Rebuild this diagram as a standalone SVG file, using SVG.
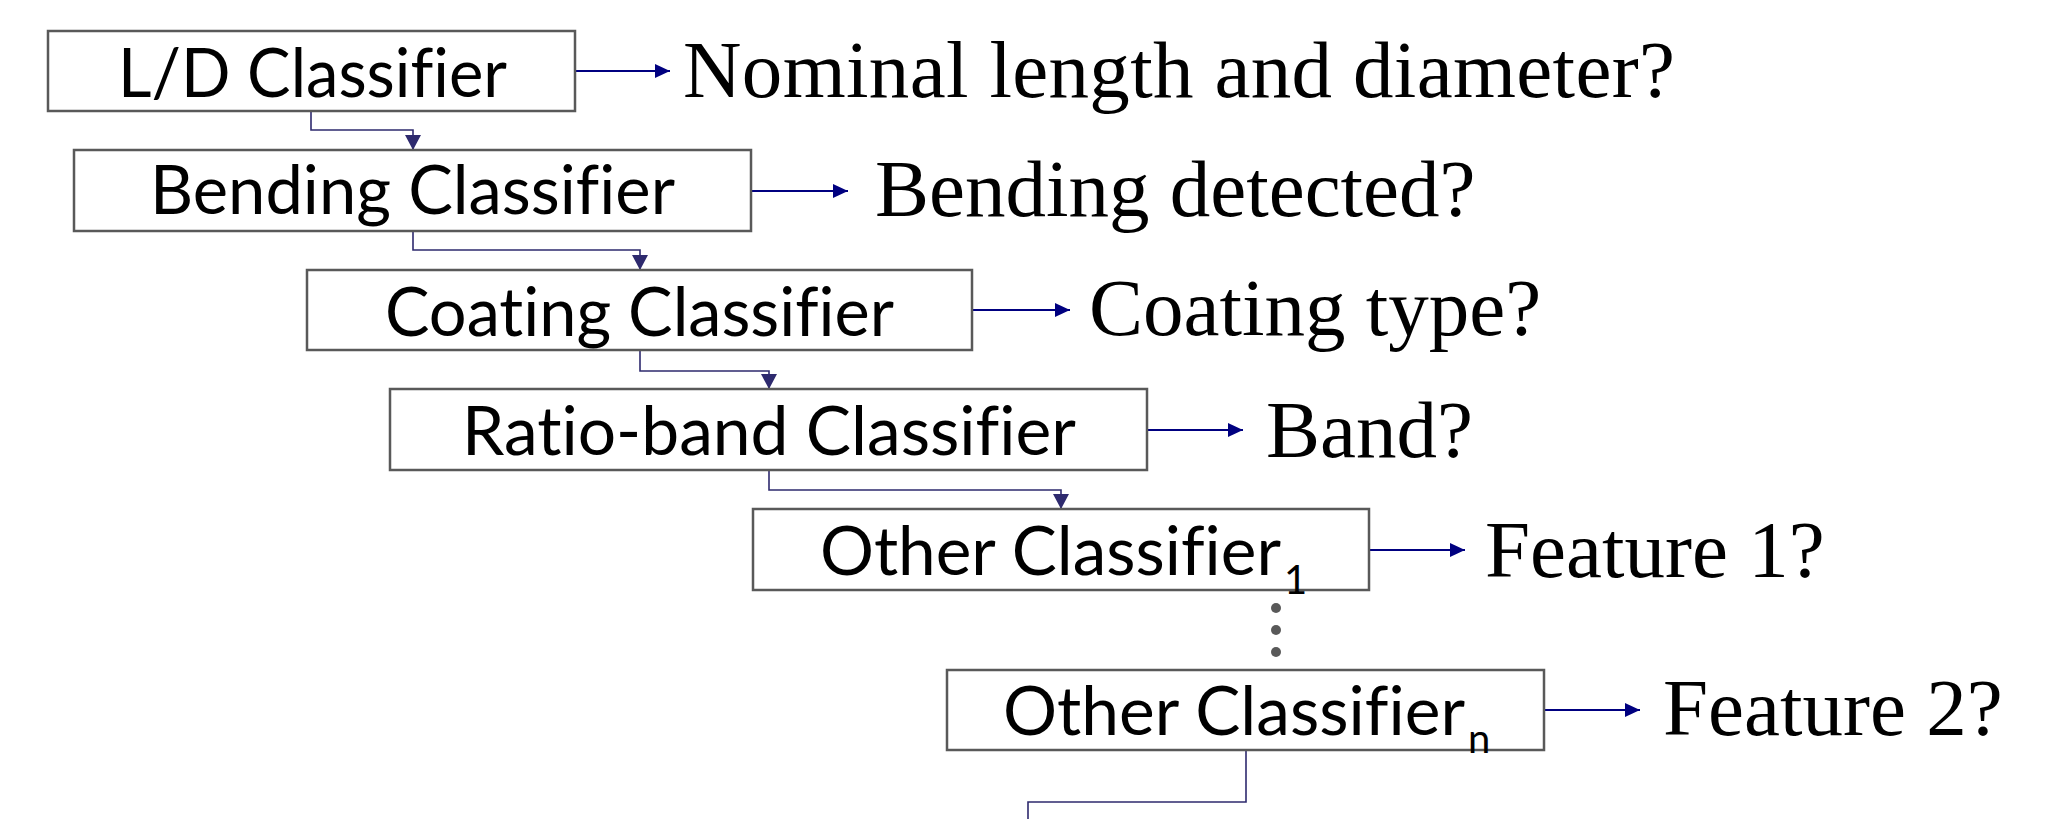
<svg xmlns="http://www.w3.org/2000/svg" width="2048" height="819" viewBox="0 0 2048 819">
<defs>
<style>
.box{fill:#ffffff;stroke:#595959;stroke-width:2.5}
.bt{font-family:Lato,"Open Sans","Liberation Sans",sans-serif;font-size:68px;fill:#000;font-variant-ligatures:none}
.sub{font-family:Lato,"Open Sans","Liberation Sans",sans-serif;font-size:40px;fill:#000}
.lbl{font-family:"Liberation Serif","Times New Roman",serif;font-size:81px;fill:#000}
.flow{fill:none;stroke:#2e2a6e;stroke-width:1.6}
.out{fill:none;stroke:#000080;stroke-width:2}
.dot{fill:#595959}
</style>
<marker id="aDown" markerUnits="userSpaceOnUse" markerWidth="15" markerHeight="16" refX="15" refY="8" orient="auto" viewBox="0 0 15 16">
<path d="M0,0 L15,8 L0,16 Z" fill="#2e2a6e"/>
</marker>
<marker id="aRight" markerUnits="userSpaceOnUse" markerWidth="15" markerHeight="14" refX="15" refY="7" orient="auto" viewBox="0 0 15 14">
<path d="M0,0 L15,7 L0,14 Z" fill="#000080"/>
</marker>
</defs>
<rect width="2048" height="819" fill="#ffffff"/>

<g id="connectors">
<path class="flow" d="M311,111 V130 H413 V150" marker-end="url(#aDown)"/>
<path class="flow" d="M413,231 V250 H640 V270" marker-end="url(#aDown)"/>
<path class="flow" d="M640,350 V371 H769 V389" marker-end="url(#aDown)"/>
<path class="flow" d="M769,470 V490 H1061 V509" marker-end="url(#aDown)"/>
<path class="flow" d="M1246,750 V802 H1028 V819"/>
<path class="out" d="M575,71 H670" marker-end="url(#aRight)"/>
<path class="out" d="M751,191 H848" marker-end="url(#aRight)"/>
<path class="out" d="M972,310 H1070" marker-end="url(#aRight)"/>
<path class="out" d="M1147,430 H1243" marker-end="url(#aRight)"/>
<path class="out" d="M1369,550 H1465" marker-end="url(#aRight)"/>
<path class="out" d="M1544,710 H1640" marker-end="url(#aRight)"/>
</g>

<g id="ld">
<rect class="box" x="48" y="31" width="527" height="80"/>
<text class="bt" x="118" y="97" textLength="389" lengthAdjust="spacingAndGlyphs">L/D Classifier</text>
</g>
<g id="ld-out">
<text class="lbl" x="683" y="97" textLength="992">Nominal length and diameter?</text>
</g>

<g id="bending">
<rect class="box" x="74" y="150" width="677" height="81"/>
<text class="bt" x="150" y="214" textLength="525" lengthAdjust="spacingAndGlyphs">Bending Classifier</text>
</g>
<g id="bending-out">
<text class="lbl" x="875" y="216">Bending detected?</text>
</g>

<g id="coating">
<rect class="box" x="307" y="270" width="665" height="80"/>
<text class="bt" x="385" y="336" textLength="509" lengthAdjust="spacingAndGlyphs">Coating Classifier</text>
</g>
<g id="coating-out">
<text class="lbl" x="1089" y="335">Coating type?</text>
</g>

<g id="ratio">
<rect class="box" x="390" y="389" width="757" height="81"/>
<text class="bt" x="462" y="455" textLength="614" lengthAdjust="spacingAndGlyphs">Ratio-band Classifier</text>
</g>
<g id="ratio-out">
<text class="lbl" x="1266" y="457">Band?</text>
</g>

<g id="other1">
<rect class="box" x="753" y="509" width="616" height="81"/>
<text class="bt" x="820" y="575" textLength="461" lengthAdjust="spacingAndGlyphs">Other Classifier</text>
<text class="sub" x="1284" y="594">1</text>
</g>
<g id="other1-out">
<text class="lbl" x="1485" y="577">Feature 1?</text>
</g>

<g id="ellipsis">
<circle class="dot" cx="1276" cy="608" r="5"/>
<circle class="dot" cx="1276" cy="630" r="5"/>
<circle class="dot" cx="1276" cy="652" r="5"/>
</g>

<g id="othern">
<rect class="box" x="947" y="670" width="597" height="80"/>
<text class="bt" x="1003" y="735" textLength="462" lengthAdjust="spacingAndGlyphs">Other Classifier</text>
<text class="sub" x="1468" y="753">n</text>
</g>
<g id="othern-out">
<text class="lbl" x="1663" y="735">Feature 2?</text>
</g>
</svg>
